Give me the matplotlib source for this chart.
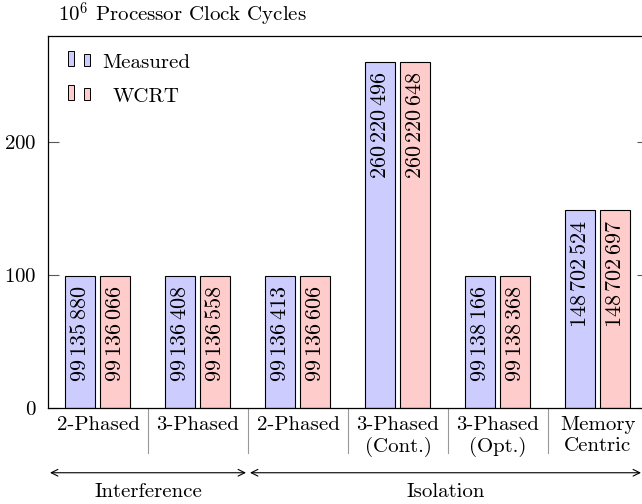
import numpy as np
import matplotlib.pyplot as plt
import matplotlib.transforms as mtransforms
from matplotlib.patches import Rectangle

plt.rcParams['font.family'] = 'cmr10'
plt.rcParams['mathtext.fontset'] = 'cm'
plt.rcParams['axes.formatter.use_mathtext'] = True
plt.rcParams['font.size'] = 15

# data (processor clock cycles)
groups = ['2-Phased', '3-Phased', '2-Phased', '3-Phased\n(Cont.)',
          '3-Phased\n(Opt.)', 'Memory\nCentric']
measured = [99135880, 99136408, 99136413, 260220496, 99138166, 148702524]
wcrt = [99136066, 99136558, 99136606, 260220648, 99138368, 148702697]
sections = ['Interference', 'Isolation']
section_spans = [(-0.48, 1.48), (1.52, 5.43)]

blue = '#ccccff'
red = '#ffcccc'

fig = plt.figure(figsize=(6.42, 5.04), dpi=100)
W, H = 642, 504
ax = fig.add_axes([48 / W, (H - 407.7) / H, 600 / W, 371.7 / H])

x = np.arange(len(groups))
bw = 0.3
off = 0.175
m = np.array(measured) / 1e6
w = np.array(wcrt) / 1e6
ax.bar(x - off, m, bw, color=blue, edgecolor='black', linewidth=0.8)
ax.bar(x + off, w, bw, color=red, edgecolor='black', linewidth=0.8)


def fmt(v):
    return '$' + f'{v:,}'.replace(',', r'\,') + '$'


for xs, vals, raw in [(x - off, m, measured), (x + off, w, wcrt)]:
    for xi, v, r in zip(xs, vals, raw):
        ax.annotate(fmt(r), (xi, v), xytext=(0, -7), textcoords='offset points',
                    rotation=90, ha='center', va='top', fontsize=16)

ax.set_xlim(-0.5, 5.5)
ax.set_ylim(0, 280)
ax.set_yticks([0, 100, 200])
ax.tick_params(axis='y', which='both', left=True, right=True, direction='in',
               length=8, width=0.8, color='0.35', pad=8)
ax.set_xticks(x)
ax.set_xticklabels(groups, linespacing=1.2)
ax.tick_params(axis='x', length=0, pad=6)
for s in ax.spines.values():
    s.set_linewidth(0.9)

trans = mtransforms.blended_transform_factory(ax.transData, ax.transAxes)
for b in np.arange(0.5, len(groups) - 0.5):
    ax.plot([b, b], [0, -0.121], transform=trans, color='0.6', lw=0.8,
            clip_on=False)

for name, (x0, x1) in zip(sections, section_spans):
    ax.annotate('', xy=(x1, -0.175), xytext=(x0, -0.175), xycoords=trans,
                textcoords=trans,
                arrowprops=dict(arrowstyle='<->', lw=0.8, color='black',
                                shrinkA=0, shrinkB=0, mutation_scale=12))
    ax.text((x0 + x1) / 2, -0.226, name, transform=trans, ha='center',
            va='center')

fig.text(58 / W, 1 - 15 / H, r'$10^6$ Processor Clock Cycles', ha='left',
         va='center')

# legend drawn by hand (centered entries, ybar-style keys)
ax_px = lambda px, py: ((px - 48) / 600, (407.7 - py) / 371.7)
for label, col, base in [('Measured', blue, 68), ('WCRT', red, 102)]:
    for kx, kh in [(68, 15), (84, 12)]:
        x0_, y0_ = ax_px(kx, base - 2)
        ax.add_patch(Rectangle((x0_, y0_), 6 / 600, kh / 371.7,
                               transform=ax.transAxes, facecolor=col,
                               edgecolor='black', lw=0.7))
    tx, ty = ax_px(146, base)
    ax.text(tx, ty, label, transform=ax.transAxes, ha='center',
            va='baseline')

fig.savefig('out.png', dpi=100)
